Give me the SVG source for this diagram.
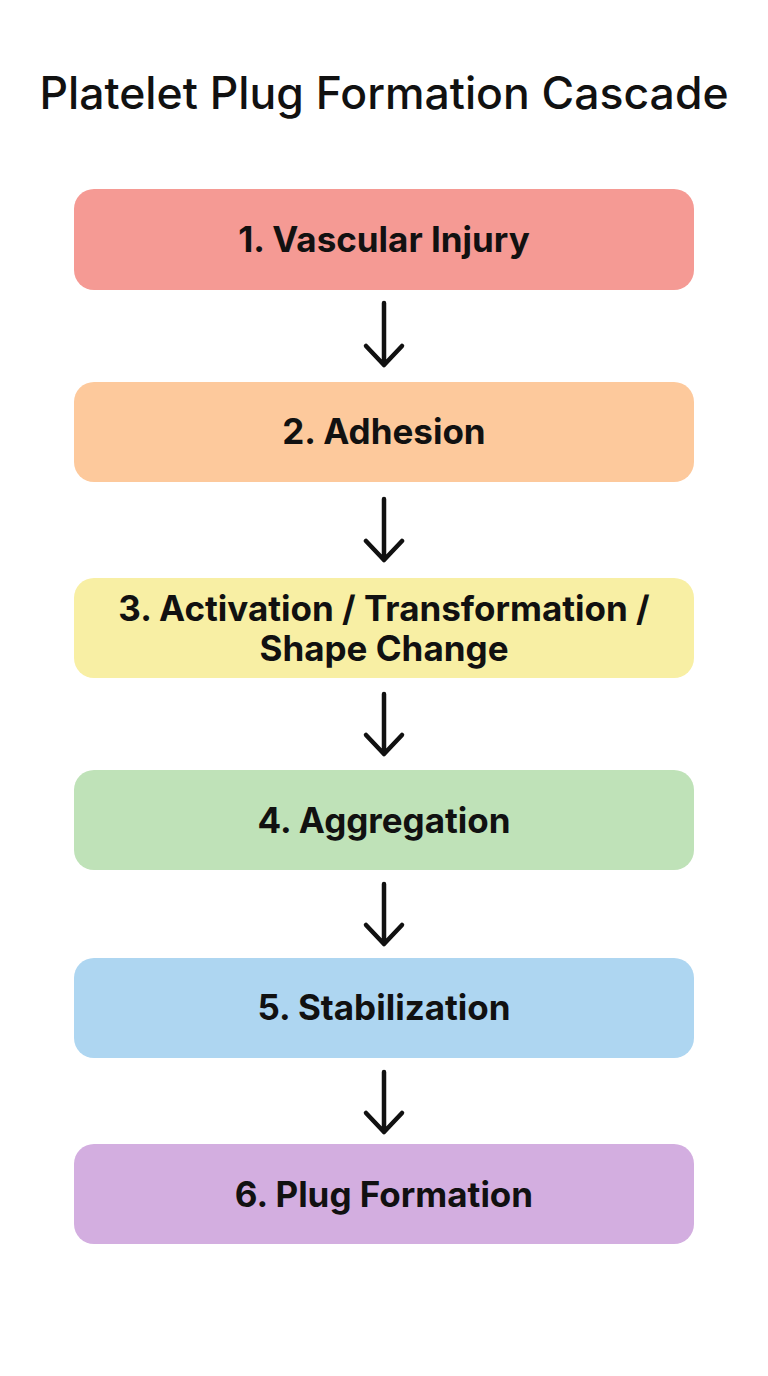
<svg xmlns="http://www.w3.org/2000/svg" width="768" height="1376" viewBox="0 0 768 1376">
<style>
.title{font-family:Inter,"Noto Sans","Liberation Sans",sans-serif;font-size:44.5px;font-weight:500;fill:#111;text-anchor:middle}
.lbl{font-family:Inter,"Noto Sans","Liberation Sans",sans-serif;font-size:35px;font-weight:700;fill:#111;text-anchor:middle}
.box{stroke:none}
.arr{fill:none;stroke:#111;stroke-width:4.5;stroke-linecap:round;stroke-linejoin:round}
</style>
<rect width="768" height="1376" fill="#ffffff"/>
<text class="title" x="384" y="109">Platelet Plug Formation Cascade</text>
<g id="node1"><rect class="box" x="74" y="189" width="620" height="101" rx="20" fill="#F59A94"/><text class="lbl" x="384" y="252">1. Vascular Injury</text></g>
<g id="node2"><rect class="box" x="74" y="382" width="620" height="100" rx="20" fill="#FDC99C"/><text class="lbl" x="384" y="444">2. Adhesion</text></g>
<g id="node3"><rect class="box" x="74" y="578" width="620" height="100" rx="20" fill="#F8EFA4"/><text class="lbl" x="384" y="621">3. Activation / Transformation /</text><text class="lbl" x="384" y="661">Shape Change</text></g>
<g id="node4"><rect class="box" x="74" y="770" width="620" height="100" rx="20" fill="#BFE2B8"/><text class="lbl" x="384" y="833">4. Aggregation</text></g>
<g id="node5"><rect class="box" x="74" y="958" width="620" height="100" rx="20" fill="#AED6F1"/><text class="lbl" x="384" y="1020">5. Stabilization</text></g>
<g id="node6"><rect class="box" x="74" y="1144" width="620" height="100" rx="20" fill="#D3AEE0"/><text class="lbl" x="384" y="1207">6. Plug Formation</text></g>
<g id="connectors">
<path class="arr" d="M384 303 V365 M366 346 L384 365 L402 346"/>
<path class="arr" d="M384 499 V560 M366 541 L384 560 L402 541"/>
<path class="arr" d="M384 694 V754 M366 735 L384 754 L402 735"/>
<path class="arr" d="M384 884 V944 M366 925 L384 944 L402 925"/>
<path class="arr" d="M384 1072 V1132 M366 1113 L384 1132 L402 1113"/>
</g>
</svg>
